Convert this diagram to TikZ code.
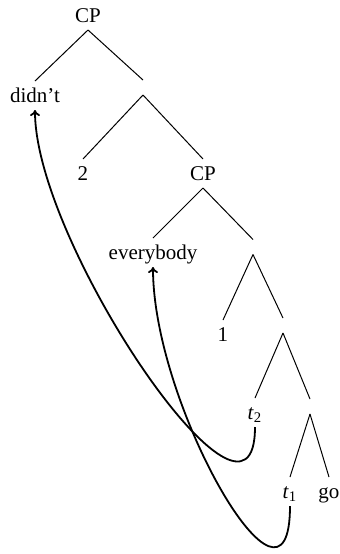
\documentclass[tikz,border=0pt]{standalone}
\usepackage{fontspec}
\setmainfont{Liberation Serif}
\usetikzlibrary{arrows.meta}

\begin{document}
\begin{tikzpicture}[
  x=0.5pt,y=-0.5pt,
  font=\fontsize{10.5}{12}\selectfont,
  lbl/.style={inner sep=0pt,outer sep=2.5pt,text height=8pt,text depth=1.5pt},
  hub/.style={inner sep=0pt,outer sep=0pt,minimum width=0pt,minimum height=7.5pt},
  branch/.style={line width=0.5pt},
  move/.style={-{To[length=3pt,width=5pt]},line width=0.9pt}
]
\useasboundingbox (0,0) rectangle (339,554);

\node[lbl] (cpTop) at (88,15.5)   {CP};
\node[lbl] (didnt) at (35,95.5)   {didn't};
\node[hub] (nA)    at (143,87.5)  {};
\node[lbl] (two)   at (83,173.5)  {2};
\node[lbl] (cpLow) at (203,173.5) {CP};
\node[lbl] (every) at (153,252.5) {everybody};
\node[hub] (nB)    at (253,247)   {};
\node[lbl] (one)   at (223,334.5) {1};
\node[hub] (nC)    at (283,325.5) {};
\node[lbl] (tTwo)  at (255,412.5) {\textit{t}\textsubscript{2}};
\node[hub] (nD)    at (310,406.5) {};
\node[lbl] (tOne)  at (290,491.5) {\textit{t}\textsubscript{1}};
\node[lbl] (go)    at (329,491.5) {go};

\draw[branch] (cpTop.south) -- (didnt.north);
\draw[branch] (cpTop.south) -- (nA.north);
\draw[branch] (nA.south) -- (two.north);
\draw[branch] (nA.south) -- (cpLow.north);
\draw[branch] (cpLow.south) -- (every.north);
\draw[branch] (cpLow.south) -- (nB.north);
\draw[branch] (nB.south) -- (one.north);
\draw[branch] (nB.south) -- (nC.north);
\draw[branch] (nC.south) -- (tTwo.north);
\draw[branch] (nC.south) -- (nD.north);
\draw[branch] (nD.south) -- (tOne.north);
\draw[branch] (nD.south) -- (go.north);

% movement
\draw[move] (tTwo.south) .. controls +(0,140) and +(0,135) .. (didnt.south);
\draw[move] (tOne.south) .. controls +(0,137) and +(0,140) .. (every.south);
\end{tikzpicture}
\end{document}
